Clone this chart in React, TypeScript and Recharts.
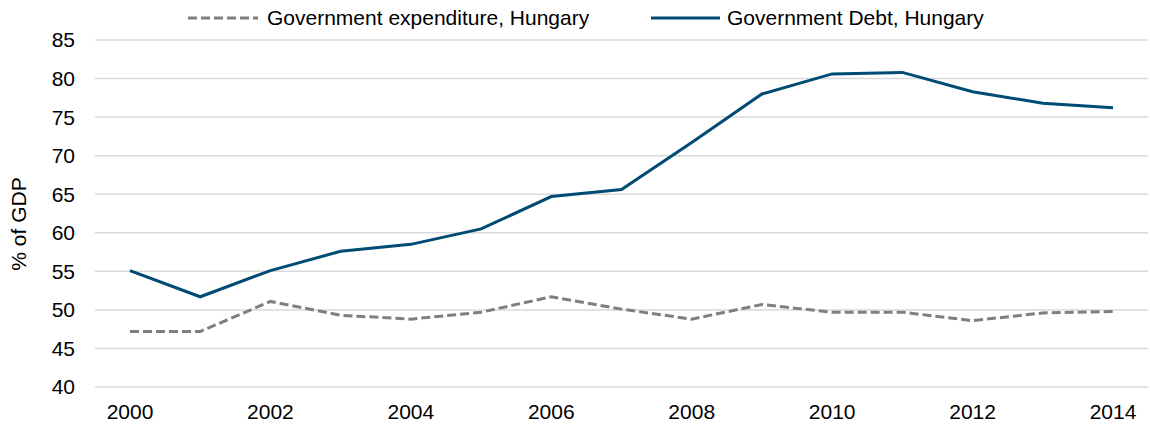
import React from "react";
import {
  LineChart,
  Line,
  XAxis,
  YAxis,
  CartesianGrid,
} from "recharts";

// Chart data
const years = [
  "2000", "2001", "2002", "2003", "2004", "2005", "2006", "2007",
  "2008", "2009", "2010", "2011", "2012", "2013", "2014",
];
const expenditure = [
  47.2, 47.2, 51.1, 49.3, 48.8, 49.7, 51.7, 50.1,
  48.8, 50.7, 49.7, 49.7, 48.6, 49.6, 49.8,
];
const debt = [
  55.1, 51.7, 55.1, 57.6, 58.5, 60.5, 64.7, 65.6,
  71.7, 78.0, 80.6, 80.8, 78.3, 76.8, 76.2,
];
const yTicks = [40, 45, 50, 55, 60, 65, 70, 75, 80, 85];

const data = years.map((year, i) => ({
  year,
  expenditure: expenditure[i],
  debt: debt[i],
}));

const FONT = "'Liberation Sans', Arial, sans-serif";
const FONT_SIZE = 21;
const GRAY = "#7f7f7f";
const BLUE = "#004b73";

const App: React.FC = () => {
  return (
    <div
      style={{
        position: "absolute",
        left: 0,
        top: 0,
        width: 1150,
        height: 426,
        background: "#fff",
        fontFamily: FONT,
      }}
    >
      {/* Legend */}
      <div style={{ position: "absolute", left: 188, top: 5, height: 26, display: "flex", alignItems: "center" }}>
        <svg width={70} height={6}>
          <line x1={0} y1={3} x2={70} y2={3} stroke={GRAY} strokeWidth={3} strokeDasharray="9 4" />
        </svg>
        <span style={{ marginLeft: 9, fontSize: FONT_SIZE, color: "#000" }}>
          Government expenditure, Hungary
        </span>
      </div>
      <div style={{ position: "absolute", left: 651, top: 5, height: 26, display: "flex", alignItems: "center" }}>
        <svg width={69} height={6}>
          <line x1={0} y1={3} x2={69} y2={3} stroke={BLUE} strokeWidth={3} />
        </svg>
        <span style={{ marginLeft: 7, fontSize: FONT_SIZE, color: "#000" }}>
          Government Debt, Hungary
        </span>
      </div>

      <LineChart
        width={1150}
        height={426}
        data={data}
        margin={{ top: 40, right: 2, bottom: 0, left: 0 }}
      >
        <CartesianGrid vertical={false} stroke="#d9d9d9" strokeWidth={1.5} />
        <XAxis
          dataKey="year"
          axisLine={false}
          tickLine={false}
          tickSize={0}
          tickMargin={17}
          height={39}
          interval={1}
          padding={{ left: 35, right: 35 }}
          tick={{ fill: "#000", fontSize: FONT_SIZE, fontFamily: FONT }}
        />
        <YAxis
          domain={[40, 85]}
          ticks={yTicks}
          axisLine={false}
          tickLine={false}
          tickSize={0}
          tickMargin={20}
          width={95}
          tick={{ fill: "#000", fontSize: FONT_SIZE, fontFamily: FONT }}
          label={{
            value: "% of GDP",
            content: () => (
              <text
                x={18}
                y={224}
                transform="rotate(-90, 18, 224)"
                textAnchor="middle"
                dominantBaseline="central"
                fill="#000"
                fontSize={FONT_SIZE}
                fontFamily={FONT}
              >
                % of GDP
              </text>
            ),
          }}
        />
        <Line
          dataKey="expenditure"
          stroke={GRAY}
          strokeWidth={3}
          strokeDasharray="9 4"
          dot={false}
          isAnimationActive={false}
        />
        <Line
          dataKey="debt"
          stroke={BLUE}
          strokeWidth={3}
          dot={false}
          isAnimationActive={false}
        />
      </LineChart>
    </div>
  );
};

export default App;
